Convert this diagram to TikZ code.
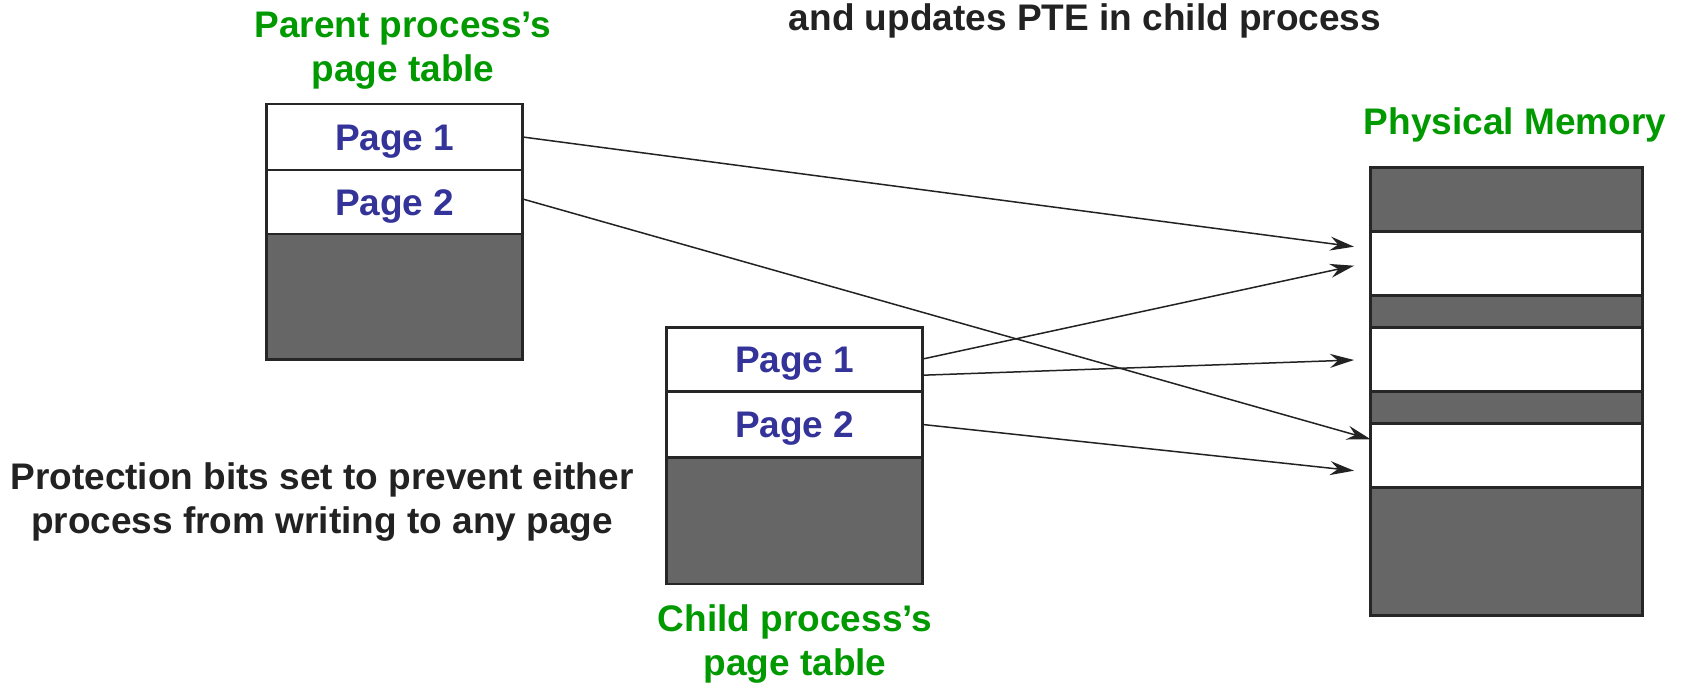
\documentclass[tikz,border=0pt]{standalone}
\usepackage{fontspec}
\setmainfont{Liberation Sans}
\usetikzlibrary{arrows.meta,calc}
\definecolor{ttlgreen}{RGB}{0,153,0}
\definecolor{pageblue}{RGB}{51,51,153}
\definecolor{fillgray}{RGB}{102,102,102}
\definecolor{edgegray}{RGB}{38,38,38}
\definecolor{txtblack}{RGB}{34,34,34}
\begin{document}
\begin{tikzpicture}[x=1pt,y=-1pt,
  font=\fontsize{37}{44}\selectfont\bfseries,
  cell/.style={draw=edgegray,line width=2.5pt,inner sep=0pt,outer sep=0pt,
     minimum width=256pt,text=pageblue,text height=26.5pt,text depth=0pt},
  wcell/.style={cell,fill=white},
  gcell/.style={cell,fill=fillgray},
  mcell/.style={draw=edgegray,line width=2.5pt,inner sep=0pt,outer sep=0pt,
     minimum width=272pt},
  title/.style={text=ttlgreen,align=center,inner sep=0pt,anchor=base},
  note/.style={text=txtblack,align=center,inner sep=0pt,anchor=base},
  arr/.style={draw=txtblack,line width=1.5pt,
     -{Stealth[length=24pt,width=14pt,inset=8pt]}}]
\useasboundingbox (0,0) rectangle (1681,683);
% parent table
\node[wcell,minimum height=66pt] (pp1) at (394.7,137) {Page 1};
\node[wcell,minimum height=64pt] (pp2) at (394.7,202) {Page 2};
\node[gcell,minimum height=125.3pt] (pp3) at (394.7,296.7) {};
% child table
\node[wcell,minimum height=64pt] (cp1) at (794.7,359.7) {Page 1};
\node[wcell,minimum height=65.6pt] (cp2) at (794.7,424.5) {Page 2};
\node[gcell,minimum height=126.7pt] (cp3) at (794.7,520.65) {};
% physical memory
\node[mcell,fill=fillgray,minimum height=63.6pt] (m0) at (1506.7,199.5) {};
\node[mcell,fill=white,minimum height=64.4pt] (m1) at (1506.7,263.5) {};
\node[mcell,fill=fillgray,minimum height=32pt] (m12) at (1506.7,311.7) {};
\node[mcell,fill=white,minimum height=63.8pt] (m2) at (1506.7,359.6) {};
\node[mcell,fill=fillgray,minimum height=32.2pt] (m23) at (1506.7,407.6) {};
\node[mcell,fill=white,minimum height=64pt] (m3) at (1506.7,455.7) {};
\node[mcell,fill=fillgray,minimum height=128pt] (m4) at (1506.7,551.7) {};
% titles
\node[title] (tparent) at (403,81) {Parent process’s\\page table};
\node[title] (tchild) at (795,675) {Child process’s\\page table};
\node[title] (tmem) at (1515,134) {Physical Memory};
\node[note] (ttop) at (1085,30) {and updates PTE in child process};
\node[note] (tprot) at (322,533) {Protection bits set to prevent either\\process from writing to any page};
% arrow tips
\coordinate (a1) at ($(m1.west)+(-16.7,-16.8)$);
\coordinate (a2) at ($(m1.west)+(-16.7,2.2)$);
\coordinate (a3) at ($(m2.west)+(-16.7,0.4)$);
\coordinate (a4) at ($(m3.west)+(0,-16.4)$);
\coordinate (a5) at ($(m3.west)+(-16.7,15)$);
% connectors
\draw[arr] (pp1.east) -- (a1);
\draw[arr] ($(pp2.east)+(0,-3)$) -- (a4);
\draw[arr] ($(cp1.east)+(0,-0.7)$) -- (a2);
\draw[arr] ($(cp1.east)+(0,15.5)$) -- (a3);
\draw[arr] (cp2.east) -- (a5);
\end{tikzpicture}
\end{document}
